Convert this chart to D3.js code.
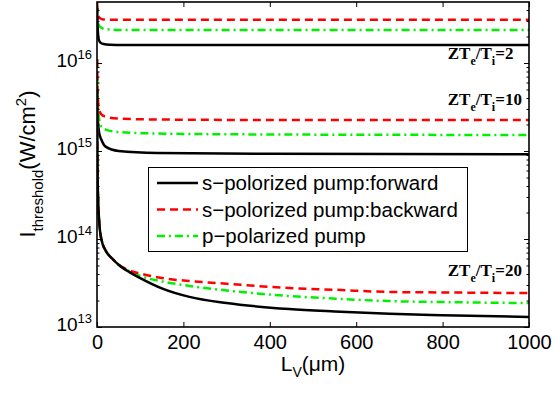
<!DOCTYPE html>
<html>
<head>
<meta charset="utf-8">
<script src="https://cdn.jsdelivr.net/npm/d3@7"></script>
<style>
  body { margin: 0; background: #fff; }
  svg text { font-family: "Liberation Sans", Arial, Helvetica, sans-serif; }
  .note text { font-family: "Liberation Serif", "Times New Roman", serif; font-weight: bold; }
</style>
</head>
<body>
<div id="chart"></div>
<script>
var width = 553,
    height = 398;

// ZTe/Ti = 2
var L2 = [0.3, 1, 2, 4, 8, 15, 30, 60, 1000];
var fwd2 = [4.2e16, 3.0e16, 2.3e16, 1.85e16, 1.7e16, 1.64e16, 1.61e16, 1.6e16, 1.6e16];
var bwd2 = [4.8e16, 4.0e16, 3.6e16, 3.35e16, 3.2e16, 3.12e16, 3.1e16, 3.1e16, 3.1e16];
var pp2  = [4.5e16, 3.5e16, 3.0e16, 2.7e16, 2.55e16, 2.45e16, 2.4e16, 2.37e16, 2.37e16];

// ZTe/Ti = 10
var L10 = [0.3, 1, 2, 5, 10, 20, 50, 140, 400, 1000];
var fwd10 = [3.5e15, 2.6e15, 2.2e15, 1.6e15, 1.35e15, 1.12e15, 1.0e15, 9.5e14, 9.3e14, 9.2e14];
var bwd10 = [1.1e16, 6e15, 4e15, 3e15, 2.6e15, 2.45e15, 2.33e15, 2.28e15, 2.25e15, 2.25e15];
var pp10  = [1.1e16, 5.5e15, 3.5e15, 2.3e15, 1.9e15, 1.75e15, 1.64e15, 1.58e15, 1.54e15, 1.52e15];

// ZTe/Ti = 20
var L20 = [0.3, 1, 2, 5, 10, 20, 35, 50, 75, 100, 150, 214, 300, 445, 550, 677, 800, 1000];
var fwd20 = [5e15, 8e14, 3.6e14, 1.6e14, 1.0e14, 7.4e13, 6.0e13, 5.1e13, 4.2e13, 3.6e13, 2.75e13, 2.2e13, 1.87e13, 1.6e13, 1.5e13, 1.41e13, 1.36e13, 1.3e13];
var bwd20 = [5e15, 8e14, 3.6e14, 1.6e14, 1.0e14, 7.4e13, 6.0e13, 5.1e13, 4.4e13, 4.05e13, 3.6e13, 3.33e13, 3.1e13, 2.77e13, 2.65e13, 2.5e13, 2.47e13, 2.43e13];
var pp20  = [5e15, 8e14, 3.6e14, 1.6e14, 1.0e14, 7.4e13, 6.0e13, 5.1e13, 4.3e13, 3.8e13, 3.3e13, 2.93e13, 2.6e13, 2.25e13, 2.1e13, 1.97e13, 1.92e13, 1.87e13];

var xTicks = [0, 200, 400, 600, 800, 1000];
var yTicks = [1e13, 1e14, 1e15, 1e16];
var legendLabels = ['s\u2212polorized pump:forward', 's\u2212polorized pump:backward', 'p\u2212polarized pump'];
var notes = [
  {L: 812, I: 1.11e16, text: '2'},
  {L: 812, I: 3.3e15, text: '10'},
  {L: 812, I: 3.8e13, text: '20'}
];

var styles = [
  {color: '#000000', dash: null},
  {color: '#ff0000', dash: '8,5'},
  {color: '#00f000', dash: '8,4,2,4'}
];

var svg = d3.select('#chart').append('svg')
    .attr('width', width)
    .attr('height', height);

var x = d3.scaleLinear().domain([0, 1000]).range([97, 529]);
var y = d3.scaleLog().domain([1e13, 4.93e16]).range([327, 2]);

svg.append('clipPath').attr('id', 'clip')
  .append('rect')
    .attr('x', x(0)).attr('y', y.range()[1])
    .attr('width', x(1000) - x(0)).attr('height', y.range()[0] - y.range()[1]);

var series = [
  {L: L2, v: [fwd2, bwd2, pp2]},
  {L: L10, v: [fwd10, bwd10, pp10]},
  {L: L20, v: [fwd20, bwd20, pp20]}
];

var line = d3.line()
    .x(function(d) { return x(d[0]); })
    .y(function(d) { return y(d[1]); })
    .curve(d3.curveMonotoneX);

var plot = svg.append('g').attr('clip-path', 'url(#clip)');

series.forEach(function(s) {
  // green, red, then black on top
  [2, 1, 0].forEach(function(k) {
    var pts = s.L.map(function(l, i) { return [l, s.v[k][i]]; });
    plot.append('path')
      .attr('d', line(pts))
      .attr('fill', 'none')
      .attr('stroke', styles[k].color)
      .attr('stroke-width', 2.5)
      .attr('stroke-dasharray', styles[k].dash);
  });
});

// minor log ticks
var minor = [];
[13, 14, 15, 16].forEach(function(e) {
  for (var m = 2; m <= 9; m++) {
    var v = m * Math.pow(10, e);
    if (v < y.domain()[1]) minor.push(v);
  }
});

function styleAxis(g) {
  g.select('.domain').remove();
  g.selectAll('.tick line').attr('stroke', '#000').attr('stroke-width', 1);
}

svg.append('g')
    .attr('transform', 'translate(0,327)')
    .call(d3.axisBottom(x).tickValues(xTicks).tickSize(-5).tickPadding(8).tickFormat(d3.format('d')))
    .call(styleAxis)
    .selectAll('text').attr('font-size', 20).attr('fill', '#000');

svg.append('g')
    .attr('transform', 'translate(0,2)')
    .call(d3.axisTop(x).tickValues(xTicks).tickSize(-5).tickFormat(''))
    .call(styleAxis);

var yl = svg.append('g')
    .attr('transform', 'translate(97,0)')
    .call(d3.axisLeft(y).tickValues(yTicks).tickSize(-5).tickFormat(''))
    .call(styleAxis);

yl.selectAll('.tick').append('text')
    .attr('x', -5)
    .attr('dy', '0.38em')
    .attr('text-anchor', 'end')
    .attr('fill', '#000')
    .each(function(d) {
      var t = d3.select(this);
      t.append('tspan').attr('font-size', 19).text('10');
      t.append('tspan').attr('font-size', 13).attr('dy', -8).text(Math.round(Math.log10(d)));
    });

svg.append('g')
    .attr('transform', 'translate(97,0)')
    .call(d3.axisLeft(y).tickValues(minor).tickSize(-2.5).tickFormat(''))
    .call(styleAxis);

svg.append('g')
    .attr('transform', 'translate(529,0)')
    .call(d3.axisRight(y).tickValues(yTicks).tickSize(-5).tickFormat(''))
    .call(styleAxis);

svg.append('g')
    .attr('transform', 'translate(529,0)')
    .call(d3.axisRight(y).tickValues(minor).tickSize(-2.5).tickFormat(''))
    .call(styleAxis);

// frame
svg.append('rect')
    .attr('x', x(0)).attr('y', y.range()[1])
    .attr('width', x(1000) - x(0)).attr('height', y.range()[0] - y.range()[1])
    .attr('fill', 'none')
    .attr('stroke', '#000')
    .attr('stroke-width', 1.6);

// annotations
var nt = svg.append('g').attr('class', 'note');
notes.forEach(function(n) {
  var t = nt.append('text')
      .attr('x', x(n.L))
      .attr('y', y(n.I))
      .attr('font-size', 17)
      .attr('fill', '#000');
  t.append('tspan').text('ZT');
  t.append('tspan').attr('font-size', 12).attr('dy', 6).text('e');
  t.append('tspan').attr('dy', -6).text('/T');
  t.append('tspan').attr('font-size', 12).attr('dy', 6).text('i');
  t.append('tspan').attr('dy', -6).text('=' + n.text);
});

// legend
var lg = svg.append('g');
lg.append('rect')
    .attr('x', 148.5).attr('y', 167.5)
    .attr('width', 319).attr('height', 84)
    .attr('fill', '#fff')
    .attr('stroke', '#000')
    .attr('stroke-width', 1);

legendLabels.forEach(function(lab, i) {
  var yy = 183 + i * 26.5;
  lg.append('line')
      .attr('x1', 157).attr('x2', 198)
      .attr('y1', yy).attr('y2', yy)
      .attr('stroke', styles[i].color)
      .attr('stroke-width', 2.5)
      .attr('stroke-dasharray', styles[i].dash);
  lg.append('text')
      .attr('x', 202).attr('y', yy)
      .attr('dy', '0.36em')
      .attr('font-size', 20.5)
      .attr('fill', '#000')
      .text(lab);
});

// axis titles
var xt = svg.append('text')
    .attr('x', 313).attr('y', 371)
    .attr('text-anchor', 'middle')
    .attr('font-size', 21)
    .attr('fill', '#000');
xt.append('tspan').text('L');
xt.append('tspan').attr('font-size', 14).attr('dy', 6).text('V');
xt.append('tspan').attr('dy', -6).text('(\u03bcm)');

var yt = svg.append('text')
    .attr('transform', 'translate(35,164) rotate(-90)')
    .attr('text-anchor', 'middle')
    .attr('font-size', 22)
    .attr('fill', '#000');
yt.append('tspan').text('I');
yt.append('tspan').attr('font-size', 15).attr('dy', 8).text('threshold');
yt.append('tspan').attr('dy', -8).text('(W/cm');
yt.append('tspan').attr('font-size', 15).attr('dy', -9).text('2');
yt.append('tspan').attr('dy', 9).text(')');
</script>
</body>
</html>
